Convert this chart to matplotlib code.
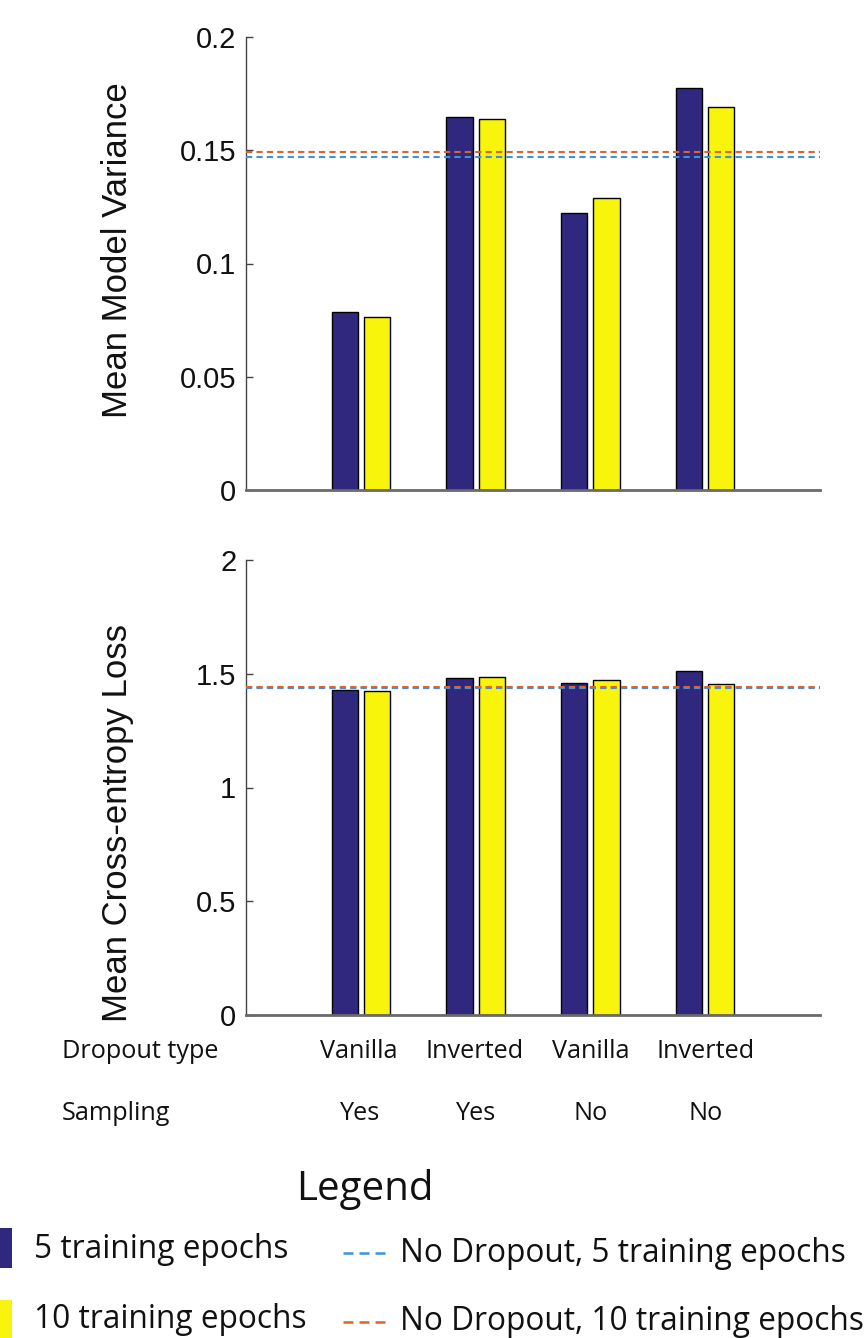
import matplotlib
matplotlib.use("Agg")
import matplotlib.pyplot as plt
from matplotlib.patches import Rectangle
from matplotlib.lines import Line2D
import numpy as np

# ---- data ----
dropout_type = ["Vanilla", "Inverted", "Vanilla", "Inverted"]
sampling = ["Yes", "Yes", "No", "No"]
variance_5 = [0.0786, 0.1647, 0.1223, 0.1775]
variance_10 = [0.0764, 0.1638, 0.1289, 0.1691]
variance_nodrop_5 = 0.1470
variance_nodrop_10 = 0.1492
loss_5 = [1.428, 1.481, 1.459, 1.513]
loss_10 = [1.424, 1.486, 1.473, 1.455]
loss_nodrop_5 = 1.437
loss_nodrop_10 = 1.443
var_ticks = [0, 0.05, 0.1, 0.15, 0.2]
var_ticklabels = ["0", "0.05", "0.1", "0.15", "0.2"]
loss_ticks = [0, 0.5, 1, 1.5, 2]
loss_ticklabels = ["0", "0.5", "1", "1.5", "2"]

C5 = "#30287f"
C10 = "#f8f40c"
CL5 = "#3a93dc"
CL10 = "#e2622c"

W, H = 866, 1338
fig = plt.figure(figsize=(W / 100, H / 100), dpi=100)
fig.patch.set_facecolor("white")

HELV = ["Liberation Sans", "DejaVu Sans"]
CAL = ["Open Sans", "DejaVu Sans"]

def fx(px):
    return px / W

def fy(py):
    return 1 - py / H

x = np.arange(1, 5)
off = 0.14
bw = 0.228

def make_axes(top, bottom, v5, v10, n5, n10, ymax, ticks, ticklabels, ylabel, label_y):
    ax = fig.add_axes([fx(246), fy(bottom), fx(820) - fx(246), fy(top) - fy(bottom)])
    ax.bar(x - off, v5, width=bw, color=C5, edgecolor="black", linewidth=1.0, zorder=2)
    ax.bar(x + off, v10, width=bw, color=C10, edgecolor="black", linewidth=1.0, zorder=2)
    ax.axhline(n5, color=CL5, linestyle=(0, (3, 2.0)), linewidth=1.5, zorder=3)
    ax.axhline(n10, color=CL10, linestyle=(0, (3, 2.0)), linewidth=1.5, zorder=3)
    ax.set_xlim(0, 5)
    ax.set_ylim(0, ymax)
    ax.set_yticks(ticks)
    ax.set_yticklabels(ticklabels, fontfamily=HELV, fontsize=21, color="#111111")
    ax.set_xticks([])
    ax.tick_params(axis="y", direction="in", length=5, width=1, color="#444444", pad=7)
    for s in ["top", "right"]:
        ax.spines[s].set_visible(False)
    ax.spines["left"].set_color("#444444")
    ax.spines["left"].set_linewidth(1.0)
    ax.spines["bottom"].set_color("#6a6a6a")
    ax.spines["bottom"].set_linewidth(2.0)
    ax.set_facecolor("none")
    fig.text(fx(118), fy(label_y), ylabel, rotation=90, ha="center", va="center",
             fontfamily=HELV, fontsize=25, color="#111111")
    return ax

make_axes(37, 490, variance_5, variance_10, variance_nodrop_5, variance_nodrop_10,
          0.2, var_ticks, var_ticklabels, "Mean Model Variance", 250)
make_axes(560, 1015, loss_5, loss_10, loss_nodrop_5, loss_nodrop_10,
          2, loss_ticks, loss_ticklabels, "Mean Cross-entropy Loss", 823)

# category table under the axes
centers_px = [359, 475, 591, 706]
TS = 18.2
fig.text(fx(62), fy(1052), "Dropout type", ha="left", va="center", fontfamily=CAL, fontsize=TS, color="#111111")
fig.text(fx(62), fy(1113), "Sampling", ha="left", va="center", fontfamily=CAL, fontsize=TS, color="#111111")
for cx, d, s in zip(centers_px, dropout_type, sampling):
    fig.text(fx(cx), fy(1052), d, ha="center", va="center", fontfamily=CAL, fontsize=TS, color="#111111")
    fig.text(fx(cx), fy(1113), s, ha="center", va="center", fontfamily=CAL, fontsize=TS, color="#111111")

# legend
LS = 22.8
fig.text(fx(365), fy(1190), "Legend", ha="center", va="center", fontfamily=CAL, fontsize=29, color="#111111")
fig.add_artist(Rectangle((fx(0), fy(1268)), fx(12), fy(1228) - fy(1268), transform=fig.transFigure,
                         facecolor=C5, edgecolor="none"))
fig.add_artist(Rectangle((fx(0), fy(1338)), fx(12), fy(1300) - fy(1338), transform=fig.transFigure,
                         facecolor=C10, edgecolor="none"))
fig.text(fx(34), fy(1250), "5 training epochs", ha="left", va="center", fontfamily=CAL, fontsize=LS, color="#111111")
fig.text(fx(34), fy(1320), "10 training epochs", ha="left", va="center", fontfamily=CAL, fontsize=LS, color="#111111")
fig.add_artist(Line2D([fx(343), fx(385)], [fy(1253), fy(1253)], transform=fig.transFigure,
                      color=CL5, linestyle=(0, (4, 2.4)), linewidth=1.8))
fig.add_artist(Line2D([fx(343), fx(385)], [fy(1322), fy(1322)], transform=fig.transFigure,
                      color=CL10, linestyle=(0, (4, 2.4)), linewidth=1.8))
fig.text(fx(400), fy(1253), "No Dropout, 5 training epochs", ha="left", va="center", fontfamily=CAL, fontsize=LS, color="#111111")
fig.text(fx(400), fy(1322), "No Dropout, 10 training epochs", ha="left", va="center", fontfamily=CAL, fontsize=LS, color="#111111")

fig.savefig("out.png", dpi=100)
